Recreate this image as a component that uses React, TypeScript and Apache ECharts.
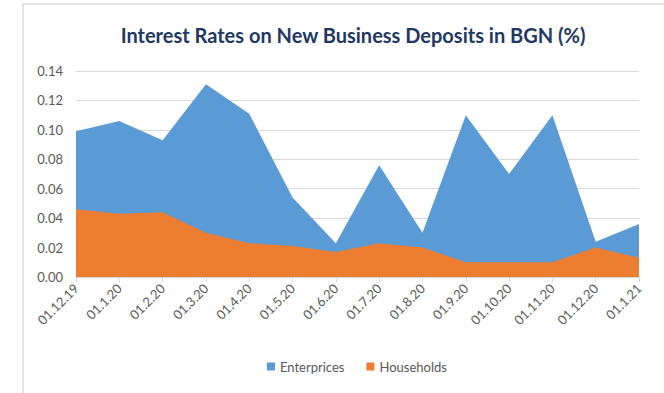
import React, { useEffect, useRef } from "react";
import * as echarts from "echarts";

const categories = [
  "01.12.19", "01.1.20", "01.2.20", "01.3.20", "01.4.20", "01.5.20", "01.6.20",
  "01.7.20", "01.8.20", "01.9.20", "01.10.20", "01.11.20", "01.12.20", "01.1.21",
];
const enterprises = [
  0.099, 0.106, 0.093, 0.131, 0.111, 0.054, 0.023,
  0.076, 0.030, 0.110, 0.070, 0.110, 0.024, 0.036,
];
const households = [
  0.046, 0.043, 0.044, 0.030, 0.023, 0.021, 0.017,
  0.023, 0.020, 0.010, 0.010, 0.010, 0.020, 0.013,
];

const FONT = "Lato, 'Open Sans', sans-serif";
const LABEL = "#595959";
const GRID = "#d9d9d9";

export default function App() {
  const ref = useRef<HTMLDivElement>(null);

  useEffect(() => {
    if (!ref.current) return;
    const chart = echarts.init(ref.current, undefined, { renderer: "svg" });
    chart.setOption({
      animation: false,
      backgroundColor: "#ffffff",
      title: {
        text: "Interest Rates on New Business Deposits in BGN (%)",
        left: 348,
        textAlign: "center",
        top: 20,
        textStyle: {
          fontFamily: FONT,
          fontSize: 20,
          fontWeight: "bold",
          color: "#1f3864",
        },
      },
      legend: {
        bottom: 15,
        left: 262,
        itemWidth: 8,
        itemHeight: 8,
        itemGap: 22,
        icon: "rect",
        textStyle: { fontFamily: FONT, fontSize: 13, color: LABEL },
        data: ["Enterprices", "Households"],
      },
      grid: { left: 76, right: 25, top: 71, bottom: 116, containLabel: false },
      xAxis: {
        type: "category",
        data: categories,
        boundaryGap: false,
        axisLine: { show: true, lineStyle: { color: GRID, width: 1 } },
        axisTick: { show: true, alignWithLabel: true, length: 5, lineStyle: { color: GRID } },
        axisLabel: {
          rotate: 45,
          interval: 0,
          margin: 9,
          fontFamily: FONT,
          fontSize: 13,
          color: LABEL,
        },
        splitLine: { show: false },
      },
      yAxis: {
        type: "value",
        min: 0,
        max: 0.14,
        interval: 0.02,
        axisLine: { show: false },
        axisTick: { show: false },
        axisLabel: {
          margin: 13,
          fontFamily: FONT,
          fontSize: 13,
          color: LABEL,
          formatter: (v: number) => v.toFixed(2),
        },
        splitLine: { lineStyle: { color: GRID, width: 1 } },
      },
      series: [
        {
          name: "Enterprices",
          type: "line",
          data: enterprises,
          showSymbol: false,
          symbol: "none",
          lineStyle: { width: 0 },
          areaStyle: { color: "#5b9bd5", opacity: 1 },
          itemStyle: { color: "#5b9bd5" },
          z: 2,
        },
        {
          name: "Households",
          type: "line",
          data: households,
          showSymbol: false,
          symbol: "none",
          lineStyle: { width: 0 },
          areaStyle: { color: "#ed7d31", opacity: 1 },
          itemStyle: { color: "#ed7d31" },
          z: 3,
        },
      ],
      graphic: [
        {
          type: "line",
          shape: { x1: 23, y1: 4, x2: 664, y2: 4 },
          style: { stroke: GRID, lineWidth: 1.5 },
        },
        {
          type: "line",
          shape: { x1: 23, y1: 4, x2: 23, y2: 393 },
          style: { stroke: GRID, lineWidth: 1.5 },
        },
      ],
    });
    return () => chart.dispose();
  }, []);

  return (
    <div
      ref={ref}
      style={{ position: "absolute", left: 0, top: 0, width: 664, height: 393 }}
    />
  );
}
